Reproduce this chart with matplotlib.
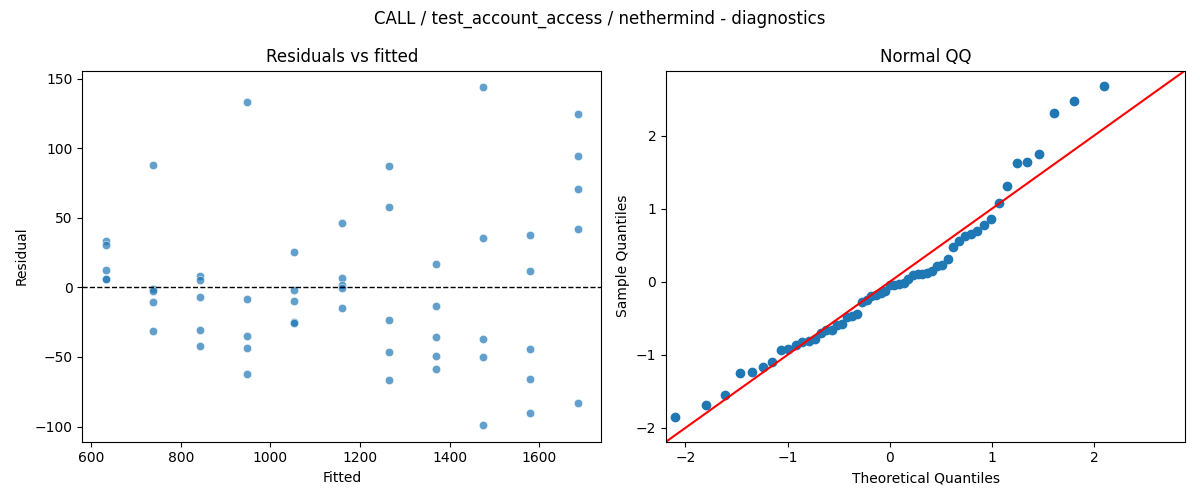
from statistics import NormalDist
import matplotlib
matplotlib.use("Agg")
import matplotlib.pyplot as plt
import seaborn as sns
import numpy as np
import pandas as pd

# fitted value of each group (x positions in the residual plot)
fitted_levels = [633, 738, 844, 949, 1054, 1160, 1265, 1370, 1475, 1580, 1686]

# residuals, 5 per fitted level
resid_g1 = [33.5, 30.4, 12.4, 6.2, 5.8]
resid_g2 = [87.8, -1.2, -2.2, -10.5, -31.3]
resid_g3 = [7.9, 5.3, -6.9, -30.6, -42.1]
resid_g4 = [133.0, -8.4, -34.9, -43.5, -62.2]
resid_g5 = [25.4, -1.9, -9.8, -24.9, -25.6]
resid_g6 = [46.2, 6.7, 1.9, -0.5, -14.8]
resid_g7 = [87.1, 57.7, -23.4, -46.4, -66.5]
resid_g8 = [16.7, -13.4, -35.6, -49.3, -58.6]
resid_g9 = [143.8, 35.4, -37.1, -50.0, -98.8]
resid_g10 = [37.6, 11.7, -44.3, -65.8, -90.2]
resid_g11 = [124.4, 94.3, 70.6, 41.9, -83.0]

groups = [resid_g1, resid_g2, resid_g3, resid_g4, resid_g5, resid_g6,
          resid_g7, resid_g8, resid_g9, resid_g10, resid_g11]

rows = []
for f, g in zip(fitted_levels, groups):
    for r in g:
        rows.append((f, r))
df = pd.DataFrame(rows, columns=["fitted", "resid"])

# standardised sample quantiles vs normal theoretical quantiles (positions i/(n+1))
resid = np.sort(df["resid"].values)
n = len(resid)
sample_q = (resid - resid.mean()) / resid.std()
theo_q = np.array([NormalDist().inv_cdf(i / (n + 1)) for i in range(1, n + 1)])

fig, axes = plt.subplots(1, 2, figsize=(12, 5), dpi=100)

# residuals vs fitted
ax = axes[0]
sns.scatterplot(data=df, x="fitted", y="resid", ax=ax, alpha=0.7)
ax.axhline(0, color="black", linestyle="--", linewidth=1)
ax.set_title("Residuals vs fitted")
ax.set_xlabel("Fitted")
ax.set_ylabel("Residual")

# normal QQ with 45 degree line
ax = axes[1]
ax.plot(theo_q, sample_q, "o", color="C0")
lo, hi = -2.19, 2.89
ax.plot([lo, hi], [lo, hi], "r-")
ax.set_xlim(lo, hi)
ax.set_ylim(lo, hi)
ax.set_title("Normal QQ")
ax.set_xlabel("Theoretical Quantiles")
ax.set_ylabel("Sample Quantiles")

fig.suptitle("CALL / test_account_access / nethermind - diagnostics")
fig.tight_layout()
fig.savefig("out.png")
